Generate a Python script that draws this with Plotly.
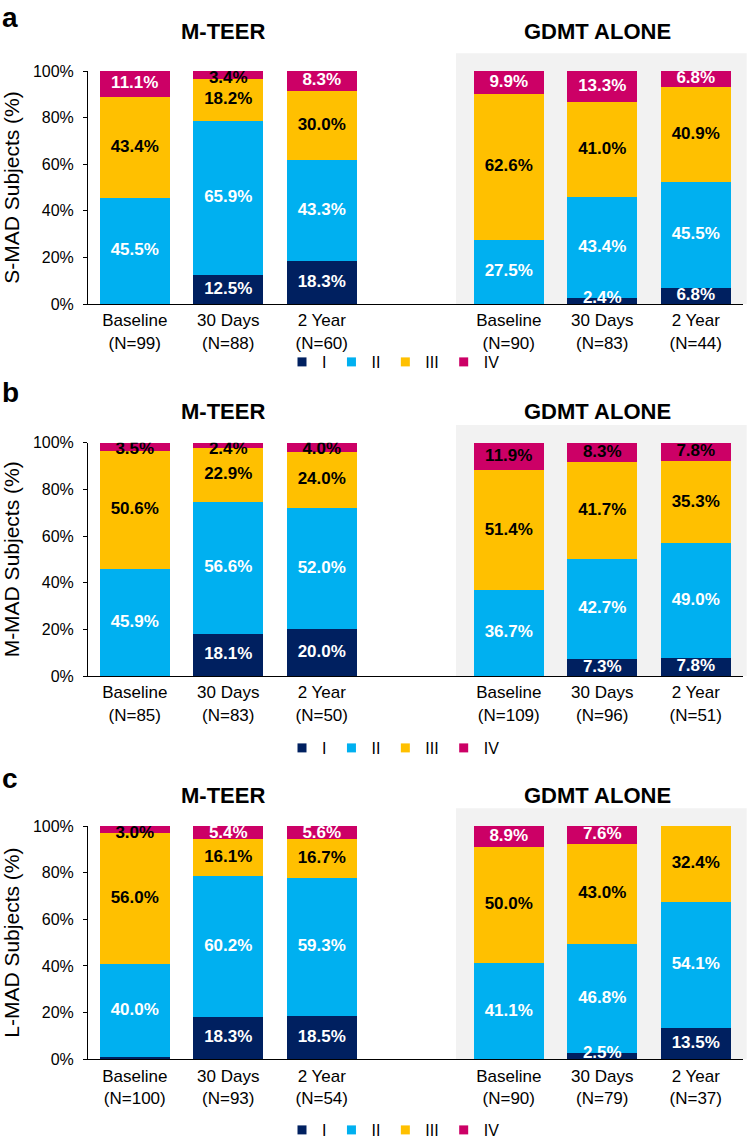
import plotly.graph_objects as go

# ---------------- data ----------------
classes = ["I", "II", "III", "IV"]
timepoints = ["Baseline", "30 Days", "2 Year"]
groups = ["M-TEER", "GDMT ALONE"]
panel_letters = ["a", "b", "c"]
panel_ytitles = ["S-MAD Subjects (%)", "M-MAD Subjects (%)", "L-MAD Subjects (%)"]

# order: M-TEER Baseline, 30 Days, 2 Year, GDMT Baseline, 30 Days, 2 Year
s_mad_n = [99, 88, 60, 90, 83, 44]
s_mad_I = [0.0, 12.5, 18.3, 0.0, 2.4, 6.8]
s_mad_II = [45.5, 65.9, 43.3, 27.5, 43.4, 45.5]
s_mad_III = [43.4, 18.2, 30.0, 62.6, 41.0, 40.9]
s_mad_IV = [11.1, 3.4, 8.3, 9.9, 13.3, 6.8]

m_mad_n = [85, 83, 50, 109, 96, 51]
m_mad_I = [0.0, 18.1, 20.0, 0.0, 7.3, 7.8]
m_mad_II = [45.9, 56.6, 52.0, 36.7, 42.7, 49.0]
m_mad_III = [50.6, 22.9, 24.0, 51.4, 41.7, 35.3]
m_mad_IV = [3.5, 2.4, 4.0, 11.9, 8.3, 7.8]

l_mad_n = [100, 93, 54, 90, 79, 37]
l_mad_I = [1.0, 18.3, 18.5, 0.0, 2.5, 13.5]
l_mad_II = [40.0, 60.2, 59.3, 41.1, 46.8, 54.1]
l_mad_III = [56.0, 16.1, 16.7, 50.0, 43.0, 32.4]
l_mad_IV = [3.0, 5.4, 5.6, 8.9, 7.6, 0.0]

panels = [
    (s_mad_n, [s_mad_I, s_mad_II, s_mad_III, s_mad_IV]),
    (m_mad_n, [m_mad_I, m_mad_II, m_mad_III, m_mad_IV]),
    (l_mad_n, [l_mad_I, l_mad_II, l_mad_III, l_mad_IV]),
]

# ---------------- style ----------------
FONT = "Liberation Sans, Arial, sans-serif"
class_colors = ["#002060", "#00B0F0", "#FFC000", "#CC0066"]
W, H = 750, 1139
# pixel geometry of each panel's plot area (top, bottom)
panel_px = [(71, 304), (442.7, 676), (826, 1059.3)]
plot_left, plot_right = 88, 742.5
title_offset_px = [40, 31, 31]
legend_center_px = [362, 748, 1130]
letter_top_px = [0, 375, 761]
# label text colours per class; class IV colours vary per bar
label_colors_fixed = ["white", "white", "black"]
iv_label_colors = [
    ["white", "black", "white", "white", "white", "white"],
    ["black", "black", "black", "black", "black", "black"],
    ["black", "white", "white", "white", "white", "white"],
]

def py(px):
    return 1 - px / H

# x positions: groups separated by one empty slot
x_pos = [g * (len(timepoints) + 1) + t for g in range(len(groups)) for t in range(len(timepoints))]
group_centers = [g * (len(timepoints) + 1) + (len(timepoints) - 1) / 2 for g in range(len(groups))]

fig = go.Figure()
layout = dict(
    width=W, height=H,
    margin=dict(l=0, r=0, t=0, b=0, autoexpand=False),
    paper_bgcolor="white", plot_bgcolor="rgba(0,0,0,0)",
    barmode="stack", bargap=0.25,
    font=dict(family=FONT, color="black"),
    showlegend=True,
    annotations=[], shapes=[],
)

for p, (ns, series) in enumerate(panels):
    sfx = "" if p == 0 else str(p + 1)
    xa, ya = "x" + sfx, "y" + sfx
    leg = "legend" + sfx
    top, bot = panel_px[p]
    plot_h = bot - top

    cum = [0.0] * len(x_pos)
    for k, vals in enumerate(series):
        fig.add_trace(go.Bar(
            x=x_pos, y=vals, name=classes[k], marker=dict(color=class_colors[k], line=dict(width=0)),
            width=0.75, xaxis=xa, yaxis=ya, showlegend=False, hoverinfo="skip",
        ))
        mids, texts, cols = [], [], []
        for i, v in enumerate(vals):
            mid = cum[i] + v / 2
            mids.append(min(max(mid, 2.2), 96.8))
            texts.append(f"<b>{v:.1f}%</b>" if v >= 1.5 else "")
            cols.append(label_colors_fixed[k] if k < 3 else iv_label_colors[p][i])
            cum[i] += v
        fig.add_trace(go.Scatter(
            x=x_pos, y=mids, mode="text", text=texts,
            textfont=dict(family=FONT, size=17, color=cols),
            xaxis=xa, yaxis=ya, showlegend=False, hoverinfo="skip",
        ))
        # legend entry
        fig.add_trace(go.Scatter(
            x=[None], y=[None], mode="markers", name=classes[k],
            marker=dict(symbol="square", size=9, color=class_colors[k]),
            xaxis=xa, yaxis=ya, legend=leg, showlegend=True, hoverinfo="skip",
        ))

    ticktext = [f"{timepoints[i % 3]}<br>(N={n})" for i, n in enumerate(ns)]
    layout["xaxis" + sfx] = dict(
        domain=[plot_left / W, plot_right / W], anchor=ya,
        range=[-0.5, x_pos[-1] + 0.5], tickvals=x_pos, ticktext=ticktext,
        showline=True, linecolor="black", linewidth=1, ticks="",
        showgrid=False, zeroline=False, tickfont=dict(size=17, family=FONT),
        ticklabelstandoff=1, fixedrange=True,
    )
    layout["yaxis" + sfx] = dict(
        domain=[py(bot), py(top)], anchor=xa,
        range=[0, 100], tickvals=[0, 20, 40, 60, 80, 100],
        ticktext=[f"{v}%" for v in [0, 20, 40, 60, 80, 100]],
        showline=True, linecolor="black", linewidth=1,
        ticks="outside", ticklen=4, tickcolor="black",
        showgrid=False, zeroline=False, tickfont=dict(size=16, family=FONT),
        ticklabelstandoff=6,
        title=dict(text=panel_ytitles[p], font=dict(size=21, family=FONT), standoff=8),
        fixedrange=True,
    )
    layout[leg] = dict(
        orientation="h", x=282 / W, xanchor="left", y=py(legend_center_px[p]), yanchor="middle",
        traceorder="normal",
        font=dict(size=16, family=FONT), bgcolor="rgba(0,0,0,0)", itemclick=False, itemdoubleclick=False,
    )
    # grey background behind GDMT ALONE
    layout["shapes"].append(dict(
        type="rect", xref=xa + " domain", yref=ya + " domain",
        x0=(456 - plot_left) / (plot_right - plot_left), x1=(746.7 - plot_left) / (plot_right - plot_left),
        y0=0, y1=1 + 17.7 / plot_h,
        fillcolor="#F2F2F2", line=dict(width=0), layer="below",
    ))
    # group titles
    for g, name in enumerate(groups):
        layout["annotations"].append(dict(
            text=f"<b>{name}</b>", x=group_centers[g], xref=xa, xshift=-5,
            y=1 + title_offset_px[p] / plot_h, yref=ya + " domain", yanchor="middle",
            showarrow=False, font=dict(size=22, family=FONT),
        ))
    # panel letter
    layout["annotations"].append(dict(
        text=f"<b>{panel_letters[p]}</b>", x=0.0, xref="paper", xanchor="left",
        y=py(letter_top_px[p]), yref="paper", yanchor="top",
        showarrow=False, font=dict(size=28, family=FONT),
    ))

fig.update_layout(**layout)
fig.write_html("out.html")
